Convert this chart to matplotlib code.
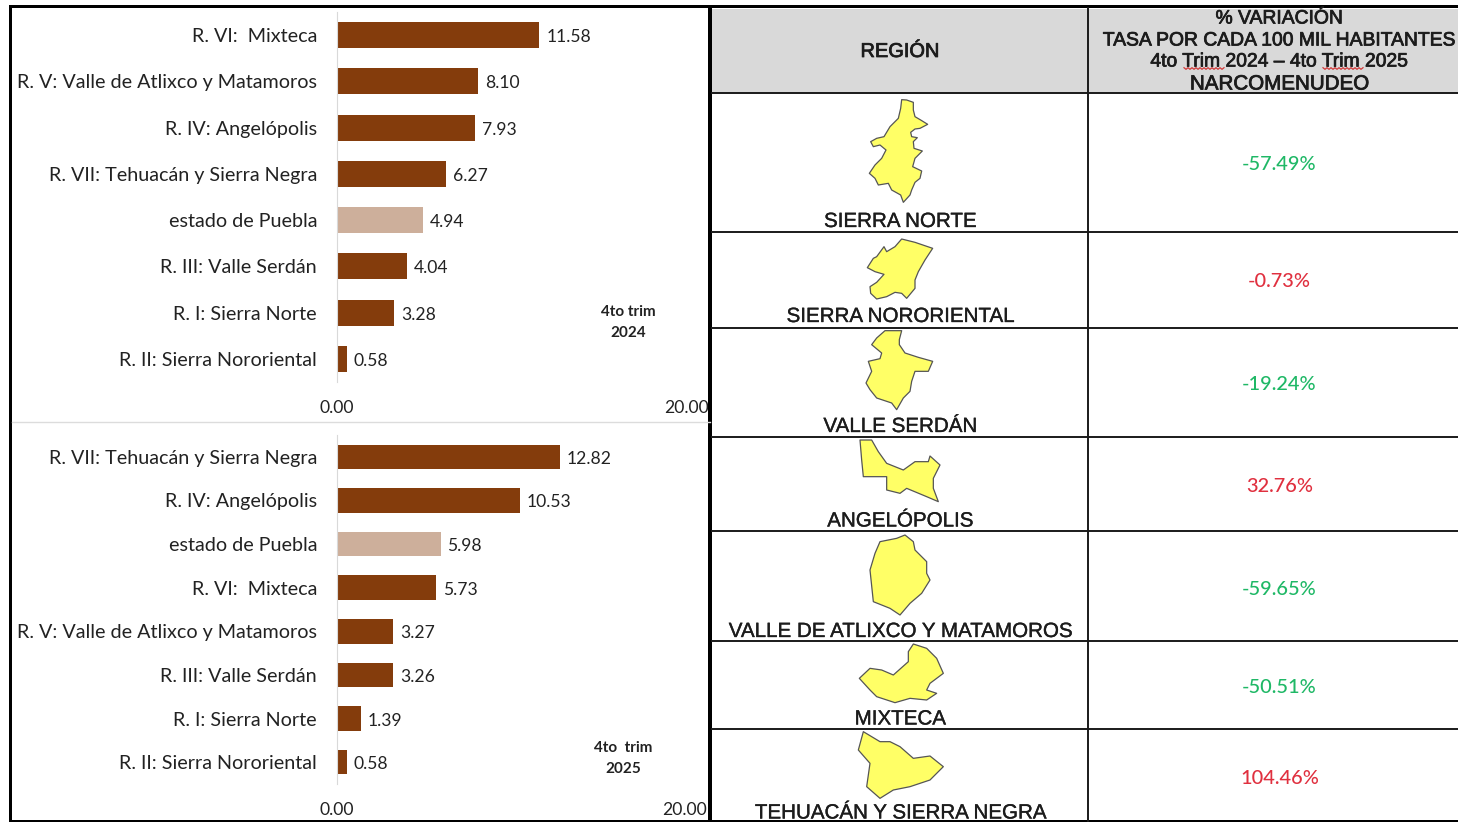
import numpy as np
import matplotlib
matplotlib.use("Agg")
import matplotlib.pyplot as plt
import matplotlib.patheffects as pe
from matplotlib.patches import Polygon, Rectangle

W, H = 1458, 822

# ---- data -------------------------------------------------------------
cats_2024 = ["R. VI:  Mixteca", "R. V: Valle de Atlixco y Matamoros", "R. IV: Angelópolis",
             "R. VII: Tehuacán y Sierra Negra", "estado de Puebla", "R. III: Valle Serdán",
             "R. I: Sierra Norte", "R. II: Sierra Nororiental"]
vals_2024 = [11.58, 8.10, 7.93, 6.27, 4.94, 4.04, 3.28, 0.58]
cats_2025 = ["R. VII: Tehuacán y Sierra Negra", "R. IV: Angelópolis", "estado de Puebla",
             "R. VI:  Mixteca", "R. V: Valle de Atlixco y Matamoros", "R. III: Valle Serdán",
             "R. I: Sierra Norte", "R. II: Sierra Nororiental"]
vals_2025 = [12.82, 10.53, 5.98, 5.73, 3.27, 3.26, 1.39, 0.58]
regions = ["SIERRA NORTE", "SIERRA NORORIENTAL", "VALLE SERDÁN", "ANGELÓPOLIS",
           "VALLE DE ATLIXCO Y MATAMOROS", "MIXTECA", "TEHUACÁN Y SIERRA NEGRA"]
variation = [-57.49, -0.73, -19.24, 32.76, -59.65, -50.51, 104.46]
header_left = "REGIÓN"
header_right = ["% VARIACIÓN", "TASA POR CADA 100 MIL HABITANTES",
                "4to Trim 2024 – 4to Trim 2025", "NARCOMENUDEO"]

# region silhouettes
outline_norte = [(125,14),(140,15),(160,22),(160,45),(165,65),(182,75),(203,88),(180,100),(165,102),(152,112),(155,125),(172,128),(160,140),(162,160),(187,168),(165,190),(158,215),(185,228),(180,250),(165,262),(155,285),(150,300),(130,322),(122,300),(95,285),(85,265),(55,270),(45,250),(28,235),(45,210),(65,190),(78,165),(60,150),(40,155),(32,140),(50,130),(72,125),(90,95),(115,70),(122,40)]
outline_nororiental = [(125,12),(165,22),(218,40),(195,75),(175,110),(165,135),(165,160),(140,190),(125,175),(105,172),(80,185),(50,192),(32,175),(30,155),(50,142),(72,118),(45,110),(22,98),(40,70),(50,65),(72,35),(80,50),(105,35)]
outline_serdan = [(75,8),(125,8),(118,35),(118,50),(135,75),(175,88),(218,100),(205,130),(165,130),(155,160),(150,190),(130,210),(110,245),(95,225),(50,210),(30,185),(18,165),(35,130),(25,100),(60,92),(65,75),(35,50),(50,30)]
outline_angelopolis = [(450,630),(485,630),(505,665),(530,700),(580,720),(615,695),(655,695),(660,678),(690,705),(670,745),(670,775),(685,815),(650,800),(590,775),(570,790),(530,780),(530,740),(460,740),(455,690)]
outline_atlixco = [(585,15),(610,35),(615,60),(650,95),(650,130),(660,150),(635,190),(600,220),(570,255),(540,235),(490,215),(480,120),(495,70),(510,35),(560,25)]
outline_mixteca = [(610,342),(650,355),(680,385),(700,430),(660,460),(650,480),(680,490),(650,510),(600,505),(555,518),(500,500),(480,480),(448,445),(480,415),(515,420),(550,435),(595,395),(595,365)]
outline_tehuacan = [(460,605),(510,635),(540,635),(570,650),(610,685),(660,678),(700,710),(660,750),(600,770),(550,780),(510,805),(470,770),(480,700),(445,660)]

BROWN, TAN = "#843C0C", "#CDAF9B"
SANS = "Lato"
ARIAL = "Liberation Sans"

fig = plt.figure(figsize=(W / 100, H / 100), dpi=100, facecolor="white")

def px_axes(l, t, r, b, **kw):
    return fig.add_axes([l / W, 1 - b / H, (r - l) / W, (b - t) / H], **kw)

def bars(cats, vals, l, t, r, b, tick_y):
    ax = px_axes(l, t, r, b)
    ax.patch.set_alpha(0)
    y = np.arange(len(cats))
    cols = [TAN if c == "estado de Puebla" else BROWN for c in cats]
    ax.barh(y, vals, height=0.56, color=cols)
    ax.set_xlim(0, 20)
    ax.set_ylim(len(cats) - 0.5, -0.5)
    ax.set_yticks(y, cats, fontsize=14.2, family=SANS, color="#222222")
    ax.set_xticks([0, 20], ["0.00", "20.00"], fontsize=12.6, family=SANS, color="#222222")
    ax.tick_params(length=0, axis="y", pad=14)
    ax.tick_params(length=0, axis="x", pad=(tick_y - b - 6) * 0.72)
    for s in ("top", "right", "bottom"):
        ax.spines[s].set_visible(False)
    ax.spines["left"].set_color("#D9D9D9")
    for yi, v in zip(y, vals):
        ax.annotate(f"{v:.2f}", (v, yi), xytext=(7, -2), textcoords="offset pixels",
                    va="center", ha="left", fontsize=12.6, family=SANS, color="#222222")
    return ax

# overlay in pixel coordinates for the frame, table and silhouettes
ov = fig.add_axes([0, 0, 1, 1], zorder=5)
ov.set_xlim(0, W); ov.set_ylim(H, 0); ov.axis("off"); ov.patch.set_alpha(0)

ov.add_patch(Rectangle((712, 9), W - 712, 84, fc="#D9D9D9", ec="none"))
ov.plot([12, 710], [422, 422], color="#DCDCDC", lw=1)
row_lines = [93, 232, 328, 437, 531, 641, 729]
for yy in row_lines:
    ov.plot([711, W], [yy, yy], color="#1a1a1a", lw=1.4, solid_capstyle="butt")
ov.plot([1088.5, 1088.5], [8, 821], color="#1a1a1a", lw=1.4)
ov.add_patch(Rectangle((10, 5), W - 10, 3.5, fc="black", ec="none"))
ov.add_patch(Rectangle((9.5, 5), 3, H - 5, fc="black", ec="none"))
ov.add_patch(Rectangle((708.5, 5), 3.2, H - 5, fc="black", ec="none"))
ov.add_patch(Rectangle((10, 820), W - 10, 2, fc="black", ec="none"))

# headers
TXT = "#1c1c1c"
heavy = [pe.withStroke(linewidth=0.55, foreground=TXT)]
ov.text(900, 51.5, header_left, ha="center", va="center", fontsize=14.4, family=ARIAL, color=TXT,
        path_effects=heavy)
for line, yy, fs in zip(header_right, [19, 41, 62, 84], [13.9, 13.9, 13.9, 14.8]):
    ov.text(1279, yy, line, ha="center", va="center", fontsize=fs, family=ARIAL, color=TXT,
            path_effects=heavy)
# spell-check squiggles
for x0, x1 in [(1184, 1224), (1323, 1364)]:
    xs = np.arange(x0, x1 + 0.1, 2)
    ys = 68.5 + np.where(np.arange(len(xs)) % 2 == 0, -0.8, 0.8)
    ov.plot(xs, ys, color="#D23A3A", lw=0.9)

# region cells
label_y = [221.5, 316.5, 426.5, 521, 631.5, 719, 813]
value_y = [164.5, 281.5, 384.5, 486, 589.5, 687.5, 778.5]
for name, ly, val, vy in zip(regions, label_y, variation, value_y):
    ov.text(900, ly, name, ha="center", va="center", fontsize=14.8, family=ARIAL, color=TXT,
            path_effects=[pe.withStroke(linewidth=0.25, foreground=TXT)])
    ov.text(1279.5, vy, f"{val:.2f}%", ha="center", va="center", fontsize=14.4, family=SANS,
            color="#E0303F" if val > -1 else "#1FB866", fontweight="medium")

def shape(points, sx, sy, ox, oy):
    pts = [(ox + x / sx, oy + y / sy) for x, y in points]
    ov.add_patch(Polygon(pts, closed=True, fc="#FFFF66", ec="#555555", lw=0.9, joinstyle="round"))

shape(outline_norte, 3, 3, 860, 95)
shape(outline_nororiental, 3, 3, 860, 235)
shape(outline_serdan, 3, 3, 860, 328)
shape(outline_angelopolis, 3, 3, 710, 230)
shape(outline_atlixco, 3, 3, 710, 530)
shape(outline_mixteca, 3, 3, 710, 530)
shape(outline_tehuacan, 3, 3, 710, 530)

# bar panels
bars(cats_2024, vals_2024, 336.5, 12, 686.5, 382, 406)
bars(cats_2025, vals_2025, 336.5, 435, 684.5, 784, 808)

ov.text(628, 322.5, "4to trim\n2024", ha="center", va="center", fontsize=11, family=SANS,
        fontweight="bold", color="#222222", linespacing=1.55)
ov.text(623.5, 758.5, "4to  trim\n2025", ha="center", va="center", fontsize=11, family=SANS,
        fontweight="bold", color="#222222", linespacing=1.55)

fig.savefig("out.png", dpi=100, facecolor="white")
